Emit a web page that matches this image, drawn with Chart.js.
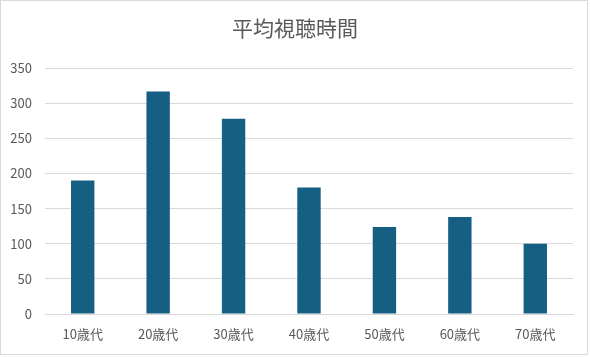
<!DOCTYPE html>
<html>
<head>
<meta charset="utf-8">
<script src="https://cdn.jsdelivr.net/npm/chart.js@4"></script>
<style>
html,body{margin:0;padding:0;background:#fff;}
#wrap{position:relative;width:590px;height:357px;}
</style>
</head>
<body>
<div id="wrap"><canvas id="c" width="590" height="357"></canvas></div>
<script>
const chartTitle = '平均視聴時間';
const categories = ['10歳代','20歳代','30歳代','40歳代','50歳代','60歳代','70歳代'];
const viewingTime = [190, 317, 278, 180, 124, 138, 100];
const yTicks = [0, 50, 100, 150, 200, 250, 300, 350];

const textColor = '#595959';
const gridColor = '#d9d9d9';
const barColor = '#156082';
const fontFamily = '"Noto Sans CJK JP", "Noto Sans", sans-serif';

const borderPlugin = {
  id: 'outerBorder',
  beforeDraw(chart) {
    const ctx = chart.ctx;
    ctx.save();
    ctx.fillStyle = '#ffffff';
    ctx.fillRect(0, 0, chart.width, chart.height);
    ctx.strokeStyle = gridColor;
    ctx.lineWidth = 1;
    ctx.strokeRect(0.5, 0.5, 587, 354);
    ctx.restore();
  }
};

new Chart(document.getElementById('c'), {
  type: 'bar',
  data: {
    labels: categories,
    datasets: [{
      label: chartTitle,
      data: viewingTime,
      backgroundColor: barColor,
      borderWidth: 0,
      categoryPercentage: 1,
      barPercentage: 0.31
    }]
  },
  options: {
    responsive: false,
    animation: false,
    devicePixelRatio: 1,
    layout: { padding: { left: 0, right: 0, top: 0, bottom: 0 } },
    plugins: {
      legend: { display: false },
      tooltip: { enabled: false },
      title: {
        display: true,
        text: chartTitle,
        color: textColor,
        font: { family: fontFamily, size: 21, weight: 'normal', lineHeight: 1.2 },
        padding: { top: 15, bottom: 28 }
      }
    },
    scales: {
      x: {
        grid: { display: false, drawTicks: false },
        border: { display: true, color: gridColor, width: 1 },
        ticks: {
          color: textColor,
          font: { family: fontFamily, size: 13 },
          padding: 12,
          maxRotation: 0
        },
        afterFit(scale) { scale.height = 43; }
      },
      y: {
        min: 0,
        max: 350,
        afterBuildTicks(scale) { scale.ticks = yTicks.map(v => ({ value: v })); },
        grid: { color: gridColor, lineWidth: 1, drawTicks: false },
        border: { display: false },
        ticks: {
          color: textColor,
          font: { family: fontFamily, size: 13 },
          padding: 13
        },
        afterFit(scale) { scale.width = 45; }
      },
      yRightSpace: {
        position: 'right',
        display: true,
        min: 0,
        max: 350,
        grid: { display: false, drawTicks: false },
        border: { display: false },
        ticks: { display: false },
        afterFit(scale) { scale.width = 17; }
      }
    }
  },
  plugins: [borderPlugin]
});
</script>
</body>
</html>
